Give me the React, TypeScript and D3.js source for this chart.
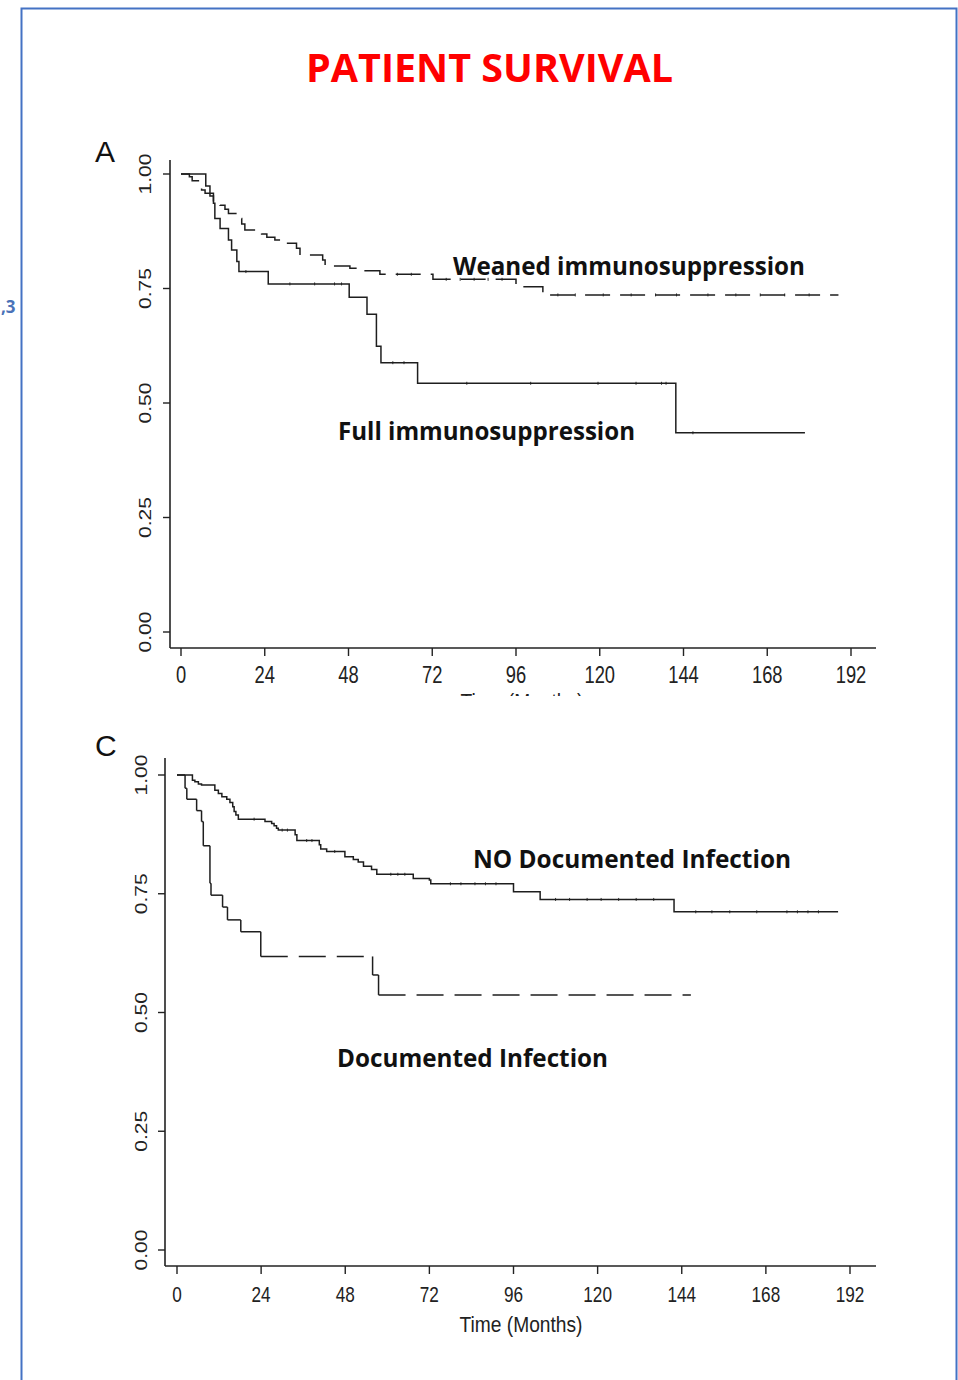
import React from "react";
import * as d3 from "d3";

// ---------- DATA ----------
const xTicks = [0, 24, 48, 72, 96, 120, 144, 168, 192];
const yTicks = [0, 0.25, 0.5, 0.75, 1];
const yTickLabels = ["0.00", "0.25", "0.50", "0.75", "1.00"];

// Panel A – Full immunosuppression (solid)
const fullTimes = [7.1, 8.3, 9.3, 9.7, 11.2, 13.6, 14.5, 16.0, 16.6, 25.0, 48.2, 53.3, 56.0, 57.3, 67.8, 141.8];
const fullSurv = [0.974, 0.952, 0.936, 0.903, 0.881, 0.856, 0.834, 0.809, 0.787, 0.76, 0.731, 0.694, 0.624, 0.588, 0.543, 0.435];
const fullEnd = 178.8;
const fullCensor = [18.6, 31.2, 38.3, 44.0, 46.0, 60.7, 63.9, 81.9, 100.2, 119.5, 130.4, 137.7, 139.0, 146.7];

// Panel A – Weaned immunosuppression (dashed)
const weanTimes = [2.4, 3.2, 5.9, 6.9, 9.3, 11.2, 12.6, 13.6, 16.6, 17.4, 18.3, 23.1, 24.6, 26.9, 28.4, 33.1, 34.1, 40.6, 41.3, 48.4, 51.3, 57.0, 72.2, 96.0, 103.7];
const weanSurv = [0.994, 0.985, 0.965, 0.958, 0.937, 0.932, 0.923, 0.914, 0.903, 0.891, 0.878, 0.869, 0.862, 0.856, 0.849, 0.838, 0.823, 0.812, 0.799, 0.794, 0.789, 0.781, 0.77, 0.754, 0.736];
const weanEnd = 188.4;
const weanCensor = [62, 66, 76, 80, 84, 88, 92, 108, 113, 121, 129, 136, 142, 151, 159, 166, 173, 180];

// Panel C – NO Documented Infection (solid)
const noInfTimes = [4.4, 5.1, 6.1, 7.0, 10.8, 11.8, 12.8, 14.2, 15.1, 15.9, 16.3, 16.8, 17.5, 25.1, 27.0, 27.7, 28.4, 28.9, 33.7, 34.2, 40.6, 41.0, 42.7, 47.9, 50.3, 51.7, 53.2, 55.5, 57.0, 67.4, 72.0, 72.4, 96.0, 103.6, 141.8];
const noInfSurv = [0.989, 0.986, 0.981, 0.979, 0.968, 0.961, 0.954, 0.949, 0.942, 0.933, 0.923, 0.916, 0.907, 0.902, 0.898, 0.893, 0.888, 0.884, 0.874, 0.862, 0.853, 0.844, 0.839, 0.828, 0.822, 0.817, 0.808, 0.801, 0.791, 0.782, 0.779, 0.771, 0.754, 0.738, 0.712];
const noInfEnd = 188.6;
const noInfCensor = [22, 30, 31.5, 37, 38.5, 45, 61, 63, 65, 78, 81, 85, 88, 91, 108, 112, 117, 121, 126, 131, 136, 148, 152.6, 157.7, 165.4, 174, 177, 180, 183];

// Panel C – Documented Infection (dashed)
const infTimes = [2.3, 2.8, 5.6, 7.0, 7.5, 9.4, 9.7, 13.0, 14.4, 18.2, 23.9, 55.8, 57.5];
const infSurv = [0.972, 0.949, 0.925, 0.902, 0.851, 0.772, 0.747, 0.722, 0.695, 0.67, 0.618, 0.579, 0.537];
const infEnd = 146.6;

// ---------- HELPERS ----------
type Sc = d3.ScaleLinear<number, number>;

function stepPoints(times: number[], surv: number[], end: number): [number, number][] {
  const pts: [number, number][] = [[0, 1]];
  times.forEach((t, i) => pts.push([t, surv[i]]));
  pts.push([end, surv[surv.length - 1]]);
  return pts;
}

function survAt(times: number[], surv: number[], t: number) {
  let s = 1;
  times.forEach((tt, i) => {
    if (tt <= t) s = surv[i];
  });
  return s;
}

function stepVertices(pts: [number, number][], x: Sc, y: Sc): [number, number][] {
  const v: [number, number][] = [];
  pts.forEach((p, i) => {
    if (i > 0) v.push([x(p[0]), y(pts[i - 1][1])]);
    v.push([x(p[0]), y(p[1])]);
  });
  return v;
}

const LINE = "#1e1e1e";

function Panel(props: {
  x: Sc;
  y: Sc;
  yAxisX: number;
  yAxisTop: number;
  xAxisY: number;
  xAxisRight: number;
  xLabelBase: number;
  xLabelSize: number;
  yLabelBase: number;
}) {
  const { x, y, yAxisX, yAxisTop, xAxisY, xAxisRight, xLabelBase, xLabelSize, yLabelBase } = props;
  return (
    <g>
      <line x1={yAxisX} y1={yAxisTop} x2={yAxisX} y2={xAxisY} stroke="#222" strokeWidth={1.6} />
      <line x1={yAxisX} y1={xAxisY} x2={xAxisRight} y2={xAxisY} stroke="#222" strokeWidth={1.6} />
      {yTicks.map((t, i) => (
        <g key={"y" + i}>
          <line x1={yAxisX - 7} x2={yAxisX} y1={y(t)} y2={y(t)} stroke="#222" strokeWidth={1.4} />
          <text
            transform={`translate(${yLabelBase},${y(t)}) scale(0.8,1) rotate(-90)`}
            textAnchor="middle"
            fontFamily="'Liberation Sans', Arial, sans-serif"
            fontSize={21}
            fill="#222"
          >
            {yTickLabels[i]}
          </text>
        </g>
      ))}
      {xTicks.map((t) => (
        <g key={"x" + t}>
          <line x1={x(t)} x2={x(t)} y1={xAxisY} y2={xAxisY + 8} stroke="#222" strokeWidth={1.4} />
          <text
            transform={`translate(${x(t)},${xLabelBase}) scale(0.78,1)`}
            textAnchor="middle"
            fontFamily="'Liberation Sans', Arial, sans-serif"
            fontSize={xLabelSize}
            fill="#222"
          >
            {t}
          </text>
        </g>
      ))}
    </g>
  );
}

function Censor(props: { x: Sc; y: Sc; times: number[]; st: number[]; ss: number[] }) {
  const { x, y, times, st, ss } = props;
  return (
    <g>
      {times.map((t, i) => {
        const yy = y(survAt(st, ss, t));
        return <line key={i} x1={x(t)} x2={x(t)} y1={yy - 1.5} y2={yy + 1.5} stroke={LINE} strokeWidth={0.9} />;
      })}
    </g>
  );
}

export default function App() {
  const xA = d3.scaleLinear().domain([0, 192]).range([181, 851]);
  const yA = d3.scaleLinear().domain([0, 1]).range([632, 174]);
  const xC = d3.scaleLinear().domain([0, 192]).range([177, 850]);
  const yC = d3.scaleLinear().domain([0, 1]).range([1250, 775]);

  const lineA = d3
    .line<[number, number]>()
    .x((d) => xA(d[0]))
    .y((d) => yA(d[1]))
    .curve(d3.curveStepAfter);
  const lineC = d3
    .line<[number, number]>()
    .x((d) => xC(d[0]))
    .y((d) => yC(d[1]))
    .curve(d3.curveStepAfter);

  const fullPts = stepPoints(fullTimes, fullSurv, fullEnd);
  const weanPts = stepPoints(weanTimes, weanSurv, weanEnd);
  const noInfPts = stepPoints(noInfTimes, noInfSurv, noInfEnd);
  const infPts = stepPoints(infTimes, infSurv, infEnd);
  const infVerts = stepVertices(infPts, xC, yC);

  const labelFont = "'Open Sans', 'Noto Sans', sans-serif";

  return (
    <svg
      width={958}
      height={1380}
      viewBox="0 0 958 1380"
      style={{ position: "absolute", left: 0, top: 0, background: "#fff" }}
    >
      <defs>
        <clipPath id="topTimeClip">
          <rect x={400} y={688} width={250} height={8} />
        </clipPath>
      </defs>
      <rect x={0} y={0} width={958} height={1380} fill="#fff" />
      <rect x={21.5} y={8.5} width={935} height={1400} fill="none" stroke="#4472C4" strokeWidth={2} />
      <text x={1} y={313} fontFamily="'Open Sans', sans-serif" fontWeight="bold" fontSize={17} fill="#4a72b8">
        ,3
      </text>

      <text
        x={306}
        y={82}
        fontFamily={labelFont}
        fontWeight="bold"
        fontSize={39}
        fill="#FF0000"
        textLength={367}
        lengthAdjust="spacingAndGlyphs"
      >
        PATIENT SURVIVAL
      </text>

      {/* Panel A */}
      <text x={95} y={162} fontFamily="'Liberation Sans', Arial, sans-serif" fontSize={30} fill="#111">
        A
      </text>
      <Panel x={xA} y={yA} yAxisX={170} yAxisTop={160} xAxisY={648} xAxisRight={876} xLabelBase={683} xLabelSize={23.5} yLabelBase={151} />
      <path d={lineA(fullPts) || ""} fill="none" stroke={LINE} strokeWidth={1.5} />
      <path d={lineA(weanPts) || ""} fill="none" stroke={LINE} strokeWidth={1.5} strokeDasharray="25 10" />
      <Censor x={xA} y={yA} times={fullCensor} st={fullTimes} ss={fullSurv} />
      <Censor x={xA} y={yA} times={weanCensor} st={weanTimes} ss={weanSurv} />
      <text
        x={522}
        y={709}
        textAnchor="middle"
        clipPath="url(#topTimeClip)"
        fontFamily="'Liberation Sans', Arial, sans-serif"
        fontSize={22}
        fill="#222"
        textLength={123}
        lengthAdjust="spacingAndGlyphs"
      >
        Time (Months)
      </text>
      <text x={453} y={275} fontFamily={labelFont} fontWeight="bold" fontSize={25} fill="#111" textLength={352} lengthAdjust="spacingAndGlyphs">
        Weaned immunosuppression
      </text>
      <text x={338} y={439.5} fontFamily={labelFont} fontWeight="bold" fontSize={25} fill="#111" textLength={297} lengthAdjust="spacingAndGlyphs">
        Full immunosuppression
      </text>

      {/* Panel C */}
      <text x={95} y={756} fontFamily="'Liberation Sans', Arial, sans-serif" fontSize={30} fill="#111">
        C
      </text>
      <Panel x={xC} y={yC} yAxisX={165} yAxisTop={758} xAxisY={1266} xAxisRight={876} xLabelBase={1302} xLabelSize={22} yLabelBase={147} />
      <path d={lineC(noInfPts) || ""} fill="none" stroke={LINE} strokeWidth={1.5} />
      <Censor x={xC} y={yC} times={noInfCensor} st={noInfTimes} ss={noInfSurv} />
      {infVerts.slice(1).map((v, i) => {
        const p = infVerts[i];
        if (p[0] === v[0] && p[1] === v[1]) return null;
        const vertical = p[0] === v[0];
        return (
          <line
            key={i}
            x1={p[0]}
            y1={p[1]}
            x2={v[0]}
            y2={v[1]}
            stroke={LINE}
            strokeWidth={1.5}
            strokeDasharray={vertical ? undefined : "27 11"}
          />
        );
      })}
      <text x={473} y={868} fontFamily={labelFont} fontWeight="bold" fontSize={25} fill="#111" textLength={318} lengthAdjust="spacingAndGlyphs">
        NO Documented Infection
      </text>
      <text x={337} y={1067} fontFamily={labelFont} fontWeight="bold" fontSize={25} fill="#111" textLength={271} lengthAdjust="spacingAndGlyphs">
        Documented Infection
      </text>
      <text
        x={521}
        y={1332}
        textAnchor="middle"
        fontFamily="'Liberation Sans', Arial, sans-serif"
        fontSize={22}
        fill="#222"
        textLength={123}
        lengthAdjust="spacingAndGlyphs"
      >
        Time (Months)
      </text>
    </svg>
  );
}
